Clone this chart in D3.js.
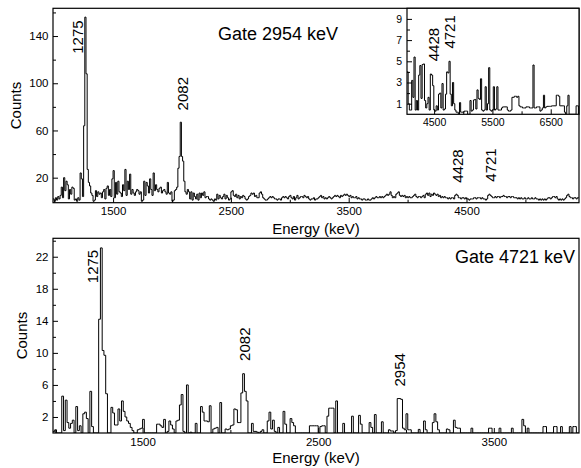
<!doctype html>
<html>
<head>
<meta charset="utf-8">
<script src="https://cdnjs.cloudflare.com/ajax/libs/d3/7.8.5/d3.min.js"></script>
<style>
  body { margin: 0; background: #fff; }
  svg { font-family: "Liberation Sans", Arial, Helvetica, sans-serif; }
</style>
</head>
<body>
<svg id="chart" width="581" height="468"></svg>
<script>
var FONT = '"Liberation Sans", Arial, Helvetica, sans-serif';

// gate 2954 keV, 10 keV bins starting at 990 keV
var topStart = 990, topBin = 10;
var topCounts = [
  2, 0, 3, 1, 4, 2, 5, 12, 3, 20,
  9, 17, 14, 2, 10, 6, 12, 11, 1, 2,
  0, 3, 1, 24, 19, 4, 64, 156, 108, 27,
  16, 13, 7, 5, 0, 1, 9, 4, 8, 6,
  7, 3, 8, 10, 2, 11, 13, 5, 10, 4,
  19, 26, 3, 16, 6, 17, 8, 7, 4, 14,
  9, 27, 5, 17, 10, 23, 6, 10, 7, 5,
  8, 10, 9, 6, 8, 0, 1, 17, 5, 16,
  13, 7, 19, 10, 5, 24, 9, 14, 10, 8,
  11, 12, 7, 9, 10, 8, 6, 16, 7, 6,
  8, 0, 1, 9, 10, 12, 28, 38, 67, 38,
  34, 17, 8, 6, 10, 8, 2, 8, 1, 7,
  4, 2, 6, 1, 7, 3, 7, 5, 8, 3,
  4, 4, 2, 1, 2, 1, 0, 2, 1, 6,
  2, 5, 3, 2, 4, 6, 2, 5, 3, 1,
  2, 8, 9, 5, 4, 6, 3, 5, 2, 4,
  3, 5, 4, 2, 1, 2, 4, 5, 7, 6,
  7, 4, 5, 3, 3, 7, 8, 6, 3, 2,
  1, 1, 2, 3, 4, 3, 4, 3, 2, 2,
  1, 2, 2, 1, 3, 4, 3, 4, 3, 2,
  4, 5, 3, 2, 4, 1, 3, 5, 2, 3,
  4, 4, 3, 5, 4, 3, 4, 2, 1, 2,
  2, 3, 1, 2, 2, 3, 4, 5, 3, 4,
  2, 3, 2, 3, 4, 3, 2, 3, 4, 5,
  4, 5, 4, 3, 5, 4, 5, 6, 5, 6,
  5, 4, 5, 3, 4, 3, 3, 4, 2, 3,
  2, 2, 1, 2, 2, 1, 1, 2, 1, 1,
  2, 3, 2, 3, 4, 3, 3, 4, 3, 4,
  3, 4, 5, 6, 5, 6, 8, 5, 3, 4,
  3, 6, 7, 8, 5, 4, 5, 4, 5, 3,
  4, 3, 4, 3, 3, 4, 5, 6, 4, 3,
  4, 4, 3, 4, 5, 3, 6, 7, 5, 7,
  4, 6, 5, 7, 6, 5, 6, 4, 5, 3,
  4, 3, 4, 3, 3, 2, 3, 2, 3, 3,
  2, 5, 6, 5, 3, 3, 2, 3, 3, 2,
  3, 2, 2, 1, 2, 2, 2, 3, 3, 2,
  3, 3, 3, 2, 3, 2, 2, 1, 2, 5,
  6, 5, 4, 3, 3, 4, 3, 4, 4, 3,
  4, 4, 5, 4, 4, 3, 4, 4, 3, 4,
  4, 3, 3, 3, 2, 3, 2, 3, 2, 2,
  3, 2, 2, 3, 2, 2, 3, 2, 2, 3,
  2, 2, 1, 2, 1, 2, 1, 2, 1, 2,
  3, 3, 2, 3, 4, 4, 3, 4, 2, 1,
  2, 1, 2, 1, 2, 3, 5, 6, 4, 3,
  3, 2, 3, 3, 2, 3, 3, 2
];

// inset, gate 2954 keV, 20 keV bins starting at 4035 keV
var insetStart = 4035, insetBin = 20;
var insetCounts = [
  4.0, 1.0, 0.4, 0.4, 3.2, 1.6, 5.4, 0.4, 1.3, 0.4,
  3.7, 4.6, 1.5, 4.7, 4.75, 1.3, 0.6, 1.0, 1.6, 0.4,
  3.8, 3.7, 2.7, 0.4, 0.3, 0.8, 0.4, 1.9, 2.0, 0.6,
  2.9, 0.4, 0.5, 1.9, 4.0, 3.9, 5.0, 1.9, 0.8, 3.0,
  1.0, 0.4, 0.2, 0.2, 0, 1.1, 0.2, 0.2, 0.2, 0.3,
  0.3, 0.3, 0, 0, 1.3, 0.3, 0.4, 1.35, 1.4, 0.5,
  2.3, 1.5, 1.4, 3.35, 0.4, 0.3, 0.4, 2.6, 0.4, 1.0,
  4.4, 0.4, 0.3, 0.4, 2.6, 0.4, 0.5, 2.6, 0.4, 0.4,
  0.4, 0.6, 0.7, 0.7, 0.7, 0.7, 0.4, 0.3, 0.3, 0.4,
  1.6, 1.6, 1.7, 1.7, 1.6, 1.7, 0.8, 0.7, 0.7, 0.6,
  0.6, 0.6, 0.7, 0.7, 0.7, 0.6, 0.6, 0.6, 4.65, 0.6,
  0.6, 0.7, 0.7, 0.7, 0.3, 0.4, 0.6, 1.8, 0.6, 0.7,
  0.75, 0.75, 0.75, 0.75, 0.8, 0.8, 0.8, 0.8, 1.8, 1.8,
  1.7, 0.8, 0.8, 0.8, 0.8, 0.2, 0, 0.8, 1.8, 0,
  0, 0, 0, 0, 0, 0.8, 0.8, 0
];

// gate 4721 keV, 10 keV bins starting at 990 keV
var botStart = 990, botBin = 10;
var botCounts = [
  0.2, 0.4, 0, 0, 0, 4.6, 0.3, 4.1, 1.3, 0.6,
  1.2, 1.6, 0, 3.3, 0.3, 0.9, 0, 2.4, 2.6, 1.8,
  0, 5.2, 0.8, 0, 0, 0, 14.2, 23.1, 10.3, 9.7,
  4.9, 0, 0, 3.2, 2.5, 1.0, 1.0, 3.0, 1.5, 4.0,
  2.7, 2.0, 1.5, 1.2, 0.7, 0.3, 0, 0, 0.4, 0.5,
  0.6, 1.7, 0, 0, 0, 0, 0, 0, 0, 1.1,
  1.1, 0.9, 0.7, 1.7, 0, 0.2, 1.5, 1.0, 0.5, 0,
  1.5, 1.6, 3.5, 4.8, 0.2, 0, 6.0, 0, 0.1, 0,
  0, 1.2, 0, 0, 3.3, 2.6, 1.5, 1.5, 1.4, 3.4,
  0, 0.5, 0.6, 0.7, 0, 3.8, 0, 0, 0.5, 0.4,
  0.5, 0.9, 1.0, 3.0, 2.9, 1.3, 1.3, 5.0, 7.4, 5.2,
  4.0, 0, 0, 1.2, 0.2, 0.2, 0.1, 0, 0.2, 0.4,
  0, 0, 1.5, 2.6, 0.5, 1.6, 0.2, 0, 0.7, 0,
  0, 2.7, 1.1, 0, 0, 1.8, 1.3, 0.9, 0, 0,
  0, 0, 0, 0, 0, 0, 0.9, 0.9, 0.9, 0.9,
  0.9, 0, 0.8, 0.9, 0.9, 0, 2.1, 3.1, 3.1, 3.1,
  0, 4.0, 0, 0, 0, 1.2, 0, 0, 0, 0,
  2.1, 0, 0, 0, 2.2, 1.1, 0, 0, 0, 0,
  1.3, 0.7, 0, 2.3, 0, 0, 0, 1.4, 0, 0,
  0, 0.4, 0.25, 0.25, 0, 0.3, 4.3, 4.3, 4.2, 0.6,
  0.4, 2.4, 0.4, 0.4, 0, 0, 0, 0, 0.45, 0,
  0, 1.5, 0.4, 0, 0, 0, 1.3, 2.4, 1.4, 0.4,
  0, 0, 0, 0, 0.5, 0.4, 0, 0, 1.6, 0.7,
  0.6, 0.6, 0, 0, 0, 0, 0, 0, 0.6, 0,
  0, 0, 0, 0, 0, 0, 0, 0, 0.6, 0.6,
  0, 0, 0, 0, 0.6, 0, 0, 0, 0, 0,
  0, 0.6, 0, 0, 0, 0, 0, 1.7, 0.9, 0,
  0.6, 0, 0, 0, 0, 0, 0, 0, 0, 0.8,
  0.8, 0, 0, 0, 0, 0.8, 0.8, 0, 0, 0.8,
  0, 0, 0, 0, 0.8, 0, 0.8, 0.8, 0, 0
];

// tick values
var topXMajor = [1500, 2500, 3500, 4500], topXMinor = [1000, 2000, 3000, 4000, 5000];
var topYMajor = [20, 60, 100, 140], topYMinor = [40, 80, 120, 160];
var insetXMajor = [4500, 5500, 6500], insetXMinor = [5000, 6000];
var insetYMajor = [1, 3, 5, 7, 9], insetYMinor = [2, 4, 6, 8];
var botXMajor = [1500, 2500, 3500], botXMinor = [1000, 2000, 3000];
var botYMajor = [2, 6, 10, 14, 18, 22], botYMinor = [4, 8, 12, 16, 20, 24];

// peak labels: energy and count at the lower end of the rotated text
var topPeaks = [{t: "1275", e: 1194, c: 125}, {t: "2082", e: 2089, c: 77},
                {t: "4428", e: 4426, c: 15.7}, {t: "4721", e: 4706, c: 16.6}];
var insetPeaks = [{t: "4428", e: 4486, c: 5.0}, {t: "4721", e: 4762, c: 6.2}];
var botPeaks = [{t: "1275", e: 1213, c: 18.7}, {t: "2082", e: 2079, c: 9.0},
                {t: "2954", e: 2961, c: 5.8}];

var svg = d3.select("#chart");

function stepPath(x, y, start, width, counts) {
  var pts = counts.map((c, i) => [start + i * width, c]);
  pts.push([start + counts.length * width, counts[counts.length - 1]]);
  return d3.line().x(d => x(d[0])).y(d => y(d[1])).curve(d3.curveStepAfter)(pts);
}

function styleAxis(g, size) {
  g.attr("font-family", FONT).attr("font-size", size);
  g.select(".domain").remove();
  g.selectAll("line").attr("stroke", "#000");
  g.selectAll("text").attr("fill", "#000");
}

function panel(id, x, y, o) {
  var g = svg.append("g");
  var x0 = x.range()[0], x1 = x.range()[1], yb = y.range()[0], yt = y.range()[1];

  if (o.fill) g.append("rect").attr("x", x0).attr("y", yt)
    .attr("width", x1 - x0).attr("height", yb - yt).attr("fill", "#fff");

  g.append("clipPath").attr("id", id).append("rect")
    .attr("x", x0).attr("y", yt).attr("width", x1 - x0).attr("height", yb - yt);

  g.append("path")
    .attr("d", stepPath(x, y, o.start, o.bin, o.counts))
    .attr("clip-path", "url(#" + id + ")")
    .attr("fill", "none").attr("stroke", "#000").attr("stroke-width", 1);

  g.append("g").attr("transform", "translate(0," + yb + ")")
    .call(d3.axisBottom(x).tickValues(o.xMinor).tickSize(-3).tickFormat(""))
    .call(styleAxis, o.fs);
  g.append("g").attr("transform", "translate(0," + yb + ")")
    .call(d3.axisBottom(x).tickValues(o.xMajor).tickSize(-5).tickPadding(4.5).tickFormat(d3.format("d")))
    .call(styleAxis, o.fs);
  g.append("g").attr("transform", "translate(" + x0 + ",0)")
    .call(d3.axisLeft(y).tickValues(o.yMinor).tickSize(-3).tickFormat(""))
    .call(styleAxis, o.fs);
  g.append("g").attr("transform", "translate(" + x0 + ",0)")
    .call(d3.axisLeft(y).tickValues(o.yMajor).tickSize(-5).tickPadding(o.yPad).tickFormat(d3.format("d")))
    .call(styleAxis, o.fs);

  g.append("rect").attr("x", x0).attr("y", yt)
    .attr("width", x1 - x0).attr("height", yb - yt)
    .attr("fill", "none").attr("stroke", "#000").attr("stroke-width", 1.2);

  g.selectAll("text.peak").data(o.peaks).enter().append("text")
    .attr("class", "peak")
    .attr("transform", d => "translate(" + x(d.e) + "," + y(d.c) + ") rotate(-90)")
    .attr("dominant-baseline", "central")
    .attr("font-size", 15)
    .text(d => d.t);
  return g;
}

// top panel
var xTop = d3.scaleLinear().domain([990, 5455]).range([53, 579]);
var yTop = d3.scaleLinear().domain([-1.2, 163.5]).range([202.7, 8.3]);
panel("clipTop", xTop, yTop, {start: topStart, bin: topBin, counts: topCounts,
  xMajor: topXMajor, xMinor: topXMinor, yMajor: topYMajor, yMinor: topYMinor,
  fs: 11.5, yPad: 4.5, peaks: topPeaks});

// inset
var xIn = d3.scaleLinear().domain([4035, 6985]).range([407, 579]);
var yIn = d3.scaleLinear().domain([0, 10]).range([114.3, 8.3]);
panel("clipIn", xIn, yIn, {start: insetStart, bin: insetBin, counts: insetCounts,
  xMajor: insetXMajor, xMinor: insetXMinor, yMajor: insetYMajor, yMinor: insetYMinor,
  fs: 10.5, yPad: 5, peaks: insetPeaks, fill: true});

// bottom panel
var xBot = d3.scaleLinear().domain([990, 3985]).range([53, 579]);
var yBot = d3.scaleLinear().domain([0, 24.3]).range([433, 238.3]);
panel("clipBot", xBot, yBot, {start: botStart, bin: botBin, counts: botCounts,
  xMajor: botXMajor, xMinor: botXMinor, yMajor: botYMajor, yMinor: botYMinor,
  fs: 11.5, yPad: 4.5, peaks: botPeaks});

// titles
svg.append("text").attr("x", 218).attr("y", 39.5).attr("font-size", 18).text("Gate 2954 keV");
svg.append("text").attr("x", 575).attr("y", 262.7).attr("font-size", 18)
  .attr("text-anchor", "end").text("Gate 4721 keV");

svg.append("text").attr("x", 316).attr("y", 234).attr("font-size", 15)
  .attr("text-anchor", "middle").text("Energy (keV)");
svg.append("text").attr("x", 316).attr("y", 463).attr("font-size", 15)
  .attr("text-anchor", "middle").text("Energy (keV)");

svg.append("text").attr("transform", "translate(20.7,105.5) rotate(-90)")
  .attr("font-size", 15).attr("text-anchor", "middle").text("Counts");
svg.append("text").attr("transform", "translate(26.7,335.6) rotate(-90)")
  .attr("font-size", 15).attr("text-anchor", "middle").text("Counts");
</script>
</body>
</html>
